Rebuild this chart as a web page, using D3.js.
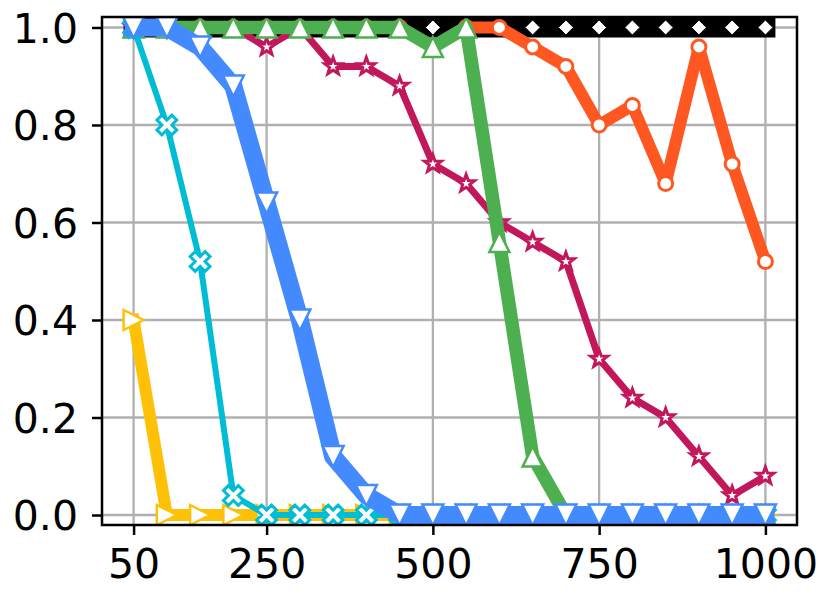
<!DOCTYPE html>
<html><head><meta charset="utf-8">
<script src="https://cdn.jsdelivr.net/npm/d3@7"></script>
<style>body{margin:0;background:#fff}</style>
</head><body><svg id="c" width="832" height="600"></svg>
<script>
// ---- data ----
const sizes = [50,100,150,200,250,300,350,400,450,500,550,600,650,700,750,800,850,900,950,1000];
const xTicks = [50,250,500,750,1000];
const yTicks = [0,0.2,0.4,0.6,0.8,1.0];
const blackVals   = [1,1,1,1,1,1,1,1,1,1,1,1,1,1,1,1,1,1,1,1];
const orangeVals  = [1,1,1,1,1,1,1,1,1,0.96,1,1,0.96,0.92,0.8,0.84,0.68,0.96,0.72,0.52];
const magentaVals = [1,1,1,1,0.96,1,0.92,0.92,0.88,0.72,0.68,0.6,0.56,0.52,0.32,0.24,0.2,0.12,0.04,0.08];
const greenVals   = [1,1,1,1,1,1,1,1,1,0.96,1,0.56,0.12,0,0,0,0,0,0,0];
const yellowVals  = [0.4,0,0,0,0,0,0,0,0,0,0,0,0,0,0,0,0,0,0,0];
const cyanVals    = [1,0.8,0.52,0.04,0,0,0,0,0,0,0,0,0,0,0,0,0,0,0,0];
const blueVals    = [1,1,0.96,0.88,0.64,0.4,0.12,0.04,0,0,0,0,0,0,0,0,0,0,0,0];

// ---- layout ----
const L=102,R=797,T=17,B=525;
const svg=d3.select('#c');
const x=d3.scaleLinear().domain([2.5,1047.5]).range([L,R]);
const y=d3.scaleLinear().domain([-0.0205,1.0215]).range([B,T]);

svg.append('defs').append('clipPath').attr('id','clip')
  .append('rect').attr('x',L).attr('y',T).attr('width',R-L).attr('height',B-T);

// grid
const grid=svg.append('g').attr('stroke','#b0b0b0').attr('stroke-width',2.3);
xTicks.forEach(v=>grid.append('line').attr('x1',x(v)).attr('x2',x(v)).attr('y1',T).attr('y2',B));
yTicks.forEach(v=>grid.append('line').attr('y1',y(v)).attr('y2',y(v)).attr('x1',L).attr('x2',R));

// marker shapes
function tri(dir,s){ // dir: up, down, right
  if(dir==='up') return `M0,${-s}L${s},${s}L${-s},${s}Z`;
  if(dir==='down') return `M0,${s}L${s},${-s}L${-s},${-s}Z`;
  return `M${s},0L${-s},${s}L${-s},${-s}Z`;
}
function diamond(s){return `M0,${-s}L${s},0L0,${s}L${-s},0Z`;}
function star(ro,ri){
  let p=[];for(let i=0;i<10;i++){const r=i%2?ri:ro;const a=-Math.PI/2+i*Math.PI/5;p.push([r*Math.cos(a),r*Math.sin(a)]);}
  return 'M'+p.map(q=>q[0].toFixed(2)+','+q[1].toFixed(2)).join('L')+'Z';
}
function xmark(Lr,t){
  const pts=[[t,t],[t,Lr],[-t,Lr],[-t,t],[-Lr,t],[-Lr,-t],[-t,-t],[-t,-Lr],[t,-Lr],[t,-t],[Lr,-t],[Lr,t]];
  const c=Math.SQRT1_2;
  return 'M'+pts.map(p=>((p[0]-p[1])*c).toFixed(2)+','+((p[0]+p[1])*c).toFixed(2)).join('L')+'Z';
}
function circle(r){return `M${r},0A${r},${r} 0 1,1 ${-r},0A${r},${r} 0 1,1 ${r},0Z`;}

const series=[
  {vals:blackVals,color:'#000000',lw:20,marker:diamond(7.5),mw:1},
  {vals:orangeVals,color:'#ff5722',lw:12,marker:circle(7),mw:3},
  {vals:magentaVals,color:'#c2185b',lw:7,marker:star(9,3.7),mw:3},
  {vals:greenVals,color:'#4caf50',lw:13.5,marker:tri('up',10),mw:2.5},
  {vals:yellowVals,color:'#ffc107',lw:12,marker:tri('right',10),mw:2.5},
  {vals:cyanVals,color:'#00bcd4',lw:6,marker:xmark(10.5,3.5),mw:3},
  {vals:blueVals,color:'#448aff',lw:18,marker:tri('down',10.5),mw:2.5}
];

const plot=svg.append('g').attr('clip-path','url(#clip)');
const line=d3.line().x((d,i)=>x(sizes[i])).y(d=>y(d));
series.forEach(s=>{
  const g=plot.append('g');
  g.append('path').attr('d',line(s.vals)).attr('fill','none').attr('stroke',s.color)
    .attr('stroke-width',s.lw).attr('stroke-linejoin','round').attr('stroke-linecap','square');
  g.selectAll('path.m').data(s.vals).enter().append('path').attr('class','m')
    .attr('d',s.marker).attr('transform',(d,i)=>`translate(${x(sizes[i])},${y(d)})`)
    .attr('fill','#ffffff').attr('stroke',s.color).attr('stroke-width',s.mw).attr('stroke-linejoin','miter');
});

// frame
svg.append('rect').attr('x',L).attr('y',T).attr('width',R-L).attr('height',B-T)
  .attr('fill','none').attr('stroke','#000').attr('stroke-width',2.5);

// axes
const font='DejaVu Sans';
const xa=svg.append('g').attr('transform',`translate(0,${B})`)
  .call(d3.axisBottom(x).tickValues(xTicks).tickFormat(d3.format('d')).tickSize(10).tickPadding(14));
const ya=svg.append('g').attr('transform',`translate(${L},0)`)
  .call(d3.axisLeft(y).tickValues(yTicks).tickFormat(d3.format('.1f')).tickSize(10).tickPadding(14));
[xa,ya].forEach(a=>{
  a.select('.domain').remove();
  a.selectAll('line').attr('stroke','#000').attr('stroke-width',2.5);
  a.selectAll('text').attr('font-family',font).attr('font-size',41).attr('fill','#000');
});
ya.selectAll('text').attr('dy','0.36em');
</script></body></html>
